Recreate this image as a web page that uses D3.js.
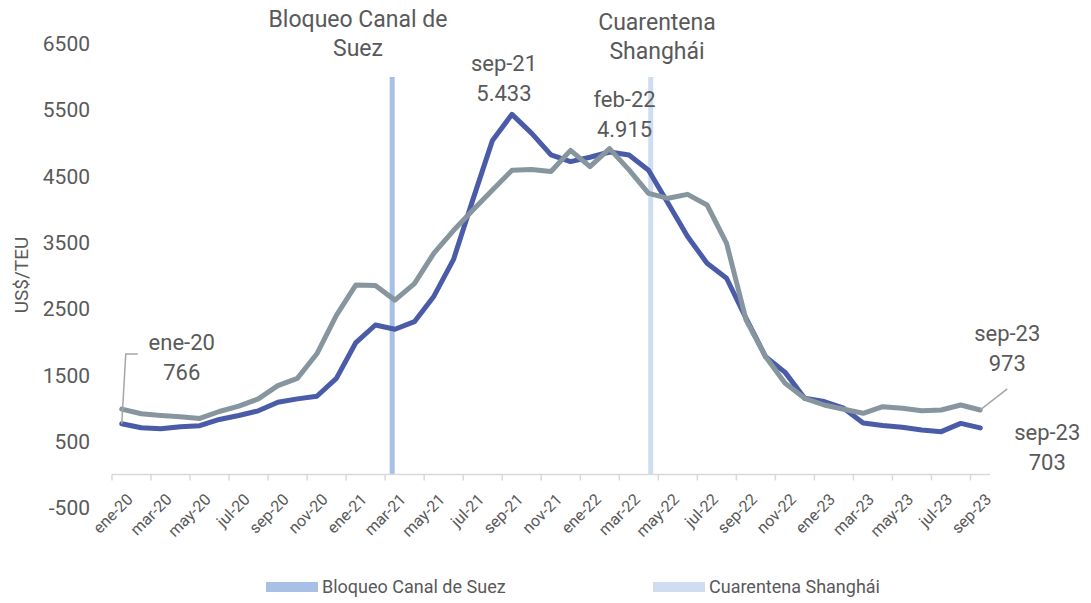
<!DOCTYPE html>
<html>
<head>
<meta charset="utf-8">
<script src="https://cdn.jsdelivr.net/npm/d3@7.9.0/dist/d3.min.js"></script>
<style>
  body { margin: 0; background: #fff; }
  svg { display: block; font-family: Roboto, "Open Sans", sans-serif; }
  text { fill: #595959; }
</style>
</head>
<body>
<svg width="1091" height="603"></svg>
<script>
// meses (ene-20 a sep-23)
const monthNames = ["ene","feb","mar","abr","may","jun","jul","ago","sep","oct","nov","dic"];
const years = ["20","21","22","23"];
const months = [];
years.forEach(y => monthNames.forEach(m => months.push(`${m}-${y}`)));
months.splice(45); // hasta sep-23

// US$/TEU
const serieAzul = [766, 705, 690, 720, 735, 830, 890, 960, 1090, 1140, 1180, 1450,
  1990, 2255, 2190, 2305, 2690, 3240, 4150, 5040, 5433, 5150, 4820, 4720,
  4785, 4865, 4820, 4590, 4090, 3590, 3185, 2960, 2355, 1775, 1540, 1150,
  1100, 1000, 775, 740, 712, 672, 646, 770, 703];
const serieGris = [985, 915, 890, 870, 845, 950, 1030, 1140, 1340, 1450, 1820, 2400,
  2860, 2850, 2630, 2880, 3340, 3680, 3990, 4290, 4590, 4600, 4570, 4890,
  4645, 4915, 4595, 4240, 4166, 4226, 4065, 3487, 2330, 1777, 1376, 1149,
  1048, 983, 923, 1023, 998, 962, 973, 1048, 973];

const yTicks = [-500, 500, 1500, 2500, 3500, 4500, 5500, 6500];

// eventos (posición en meses desde ene-20)
const eventos = ["Bloqueo Canal de Suez", "Cuarentena Shanghái"];
const eventosPos = [13.86, 27.11];
const eventosTitulo = [["Bloqueo Canal de", "Suez"], ["Cuarentena", "Shanghái"]];

const colAzul = "#4a5ba8";
const colGris = "#87969e";
const colEventos = ["#a9c0e6", "#d0ddf1"];

const svg = d3.select("svg");

let x = d3.scaleBand().domain(months).range([112, 990]).padding(0);
let xPos = d3.scaleLinear().domain([0, months.length - 1])
  .range([x(months[0]) + x.bandwidth() / 2, x(months[months.length - 1]) + x.bandwidth() / 2]);
let y = d3.scaleLinear().domain([-500, 6500]).range([507.6, 43.6]);

// lineas de eventos
eventosPos.forEach((p, i) => {
  svg.append("line")
    .attr("x1", xPos(p)).attr("x2", xPos(p))
    .attr("y1", 77).attr("y2", y(0))
    .attr("stroke", colEventos[i]).attr("stroke-width", 5);
});

// eje x
svg.append("line")
  .attr("x1", 112).attr("x2", 990)
  .attr("y1", y(0)).attr("y2", y(0))
  .attr("stroke", "#d9d9d9").attr("stroke-width", 1.5);

months.forEach((m, i) => {
  if (i % 2 !== 0) return;
  svg.append("line")
    .attr("x1", x(m)).attr("x2", x(m))
    .attr("y1", y(0)).attr("y2", y(0) + 6)
    .attr("stroke", "#d9d9d9").attr("stroke-width", 1.5);
  svg.append("text")
    .attr("transform", `translate(${x(m) + x.bandwidth() / 2 + 4},${y(0) + 18}) rotate(-45)`)
    .attr("text-anchor", "end")
    .attr("dy", "0.71em")
    .style("font-size", "16px")
    .text(m);
});

// eje y
yTicks.forEach(t => {
  svg.append("text")
    .attr("x", 90).attr("y", y(t))
    .attr("dy", "0.36em")
    .attr("text-anchor", "end")
    .style("font-size", "21px")
    .text(t);
});

svg.append("text")
  .attr("transform", "translate(28,275) rotate(-90)")
  .attr("text-anchor", "middle")
  .style("font-size", "19px")
  .text("US$/TEU");

// series
let line = d3.line().x((d, i) => xPos(i)).y(d => y(d));

svg.append("path").datum(serieAzul)
  .attr("d", line).attr("fill", "none")
  .attr("stroke", colAzul).attr("stroke-width", 5)
  .attr("stroke-linejoin", "round").attr("stroke-linecap", "round");

svg.append("path").datum(serieGris)
  .attr("d", line).attr("fill", "none")
  .attr("stroke", colGris).attr("stroke-width", 5)
  .attr("stroke-linejoin", "round").attr("stroke-linecap", "round");

// titulos de eventos
eventosTitulo.forEach((lines, i) => {
  let t = svg.append("text")
    .attr("text-anchor", "middle")
    .style("font-size", "23px");
  lines.forEach((l, j) => {
    t.append("tspan")
      .attr("x", i === 0 ? 358 : 657)
      .attr("y", (i === 0 ? 27 : 30) + j * 29)
      .text(l);
  });
});

// etiquetas de datos
const etiquetas = [
  { serie: serieAzul, idx: 0, dx: 60, dy: -74 },
  { serie: serieAzul, idx: 20, dx: -8, dy: -43 },
  { serie: serieGris, idx: 25, dx: 15, dy: -42 },
  { serie: serieGris, idx: 44, dx: 27, dy: -69 },
  { serie: serieAzul, idx: 44, dx: 67, dy: 12 }
];
const fmt = v => d3.format(",")(v).replace(/,/g, ".");

etiquetas.forEach(e => {
  let px = xPos(e.idx), py = y(e.serie[e.idx]);
  let t = svg.append("text").attr("text-anchor", "middle").style("font-size", "22px");
  t.append("tspan").attr("x", px + e.dx).attr("y", py + e.dy).text(months[e.idx]);
  t.append("tspan").attr("x", px + e.dx).attr("y", py + e.dy + 30).text(fmt(e.serie[e.idx]));
});

// lineas guia
let x0 = xPos(0), y0 = y(serieAzul[0]);
svg.append("polyline")
  .attr("points", `${x0},${y0} ${x0 + 4},354 ${x0 + 16},354`)
  .attr("fill", "none").attr("stroke", "#a6a6a6").attr("stroke-width", 1.5);

let x44 = xPos(44), y44 = y(serieGris[44]);
svg.append("line")
  .attr("x1", x44).attr("y1", y44)
  .attr("x2", x44 + 27).attr("y2", y44 - 21)
  .attr("stroke", "#a6a6a6").attr("stroke-width", 1.5);

// leyenda
const legX = [266, 653];
eventos.forEach((ev, i) => {
  svg.append("rect")
    .attr("x", legX[i]).attr("y", 582)
    .attr("width", 52).attr("height", 10)
    .attr("fill", colEventos[i]);
  svg.append("text")
    .attr("x", legX[i] + 56).attr("y", 593)
    .style("font-size", "18px")
    .text(ev);
});
</script>
</body>
</html>
